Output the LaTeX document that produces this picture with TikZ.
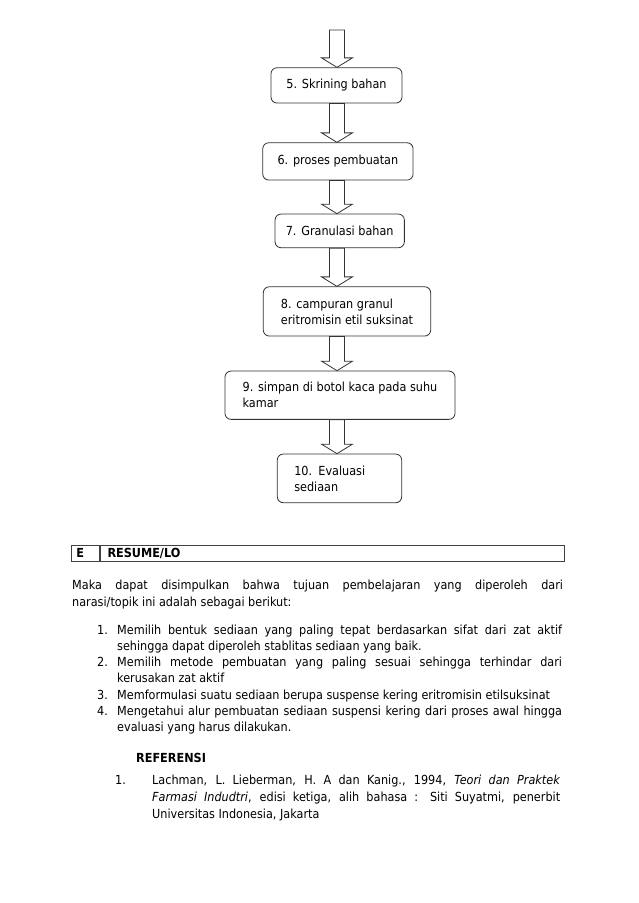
\documentclass[tikz,border=0pt]{standalone}
\usepackage{fontspec}
\setmainfont{DejaVu Sans Condensed}
\usetikzlibrary{calc}

\begin{document}
\begin{tikzpicture}[x=1pt,y=1pt]
    \tikzstyle{stepbox}=[draw=black!80, line width=0.8pt, rounded corners=6pt, align=left, inner sep=0pt, font=\fontsize{12.5}{16}\selectfont]
    \tikzstyle{blockarrow}=[draw=black!80, line width=0.8pt, fill=white, line join=miter]
    \tikzstyle{cell}=[draw=black!75, line width=0.8pt, anchor=north west, minimum height=16pt, inner ysep=0pt, align=left, font=\fontsize{12.5}{15}\selectfont\bfseries]
    \tikzstyle{para}=[anchor=base west, inner sep=0pt, align=justify, font=\fontsize{12.5}{17}\selectfont]

    \fill[white] (0,0) rectangle (638,-903);
    \useasboundingbox (0,0) rectangle (638,-903);

    % flow steps
    \node[stepbox, minimum width=131, minimum height=35.3] (S5) at (336.5,-85.4) {5. Skrining bahan};
    \node[stepbox, minimum width=150.3, minimum height=37.3] (S6) at (337.9,-161.4) {6. proses pembuatan};
    \node[stepbox, minimum width=129.3, minimum height=33.7] (S7) at (339.7,-230.9) {7. Granulasi bahan};
    \node[stepbox, minimum width=167.4, minimum height=49.3] (S8) at (347,-311.4) {8. campuran granul\\eritromisin etil suksinat};
    \node[stepbox, minimum width=230, minimum height=48.3] (S9) at (340,-395.2) {9. simpan di botol kaca pada suhu\\kamar};
    \node[stepbox, text width=90.4, inner xsep=17, minimum height=48.7] (S10) at (339.5,-478.4) {10. Evaluasi\\sediaan};

    \coordinate (col) at (337,0);
    \coordinate (top) at (337,-30);

    % block arrows
    \foreach \a/\b in {top/S5, S5.south/S6, S6.south/S7, S7.south/S8, S8.south/S9, S9.south/S10}
        \draw[blockarrow] ($(col |- \a)+(-7.5,0)$) -- ($(col |- \b.north)+(-7.5,9.5)$) -- ++(-8,0)
            -- (col |- \b.north) -- ($(col |- \b.north)+(15.5,9.5)$) -- ++(-8,0)
            -- ($(col |- \a)+(7.5,0)$) -- cycle;

    % section header
    \node[cell, text width=18.3, inner xsep=5] (E) at (71,-545) {E};
    \node[cell, text width=450, inner xsep=7] (R) at (E.north east) {RESUME/LO};

    % resume text
    \node[para, text width=491] (intro) at (72,-589) {Maka dapat disimpulkan bahwa tujuan pembelajaran yang diperoleh dari\linebreak narasi/topik ini adalah sebagai berikut:};

    \node[para, text width=465, font=\fontsize{12.5}{16.3}\selectfont] (goals) at (97,-634) {%
        \hangindent=20pt\hangafter=1\noindent\makebox[20pt][l]{1.}Memilih bentuk sediaan yang paling tepat berdasarkan sifat dari zat aktif\linebreak sehingga dapat diperoleh stablitas sediaan yang baik.\par
        \hangindent=20pt\hangafter=1\noindent\makebox[20pt][l]{2.}Memilih metode pembuatan yang paling sesuai sehingga terhindar dari\linebreak kerusakan zat aktif\par
        \hangindent=20pt\hangafter=1\noindent\makebox[20pt][l]{3.}Memformulasi suatu sediaan berupa suspense kering eritromisin etilsuksinat\par
        \hangindent=20pt\hangafter=1\noindent\makebox[20pt][l]{4.}Mengetahui alur pembuatan sediaan suspensi kering dari proses awal hingga\linebreak evaluasi yang harus dilakukan.\par};

    \node[para, font=\fontsize{12.5}{17}\selectfont\bfseries] (refhead) at (136,-762) {REFERENSI};

    \node[para, text width=445, font=\fontsize{12.5}{17}\selectfont] (ref1) at (115,-784) {%
        \hangindent=37pt\hangafter=1\noindent\makebox[37pt][l]{1.}Lachman, L. Lieberman, H. A dan Kanig., 1994, \textit{Teori dan Praktek}\linebreak \textit{Farmasi Indudtri}, edisi ketiga, alih bahasa : Siti Suyatmi, penerbit\linebreak Universitas Indonesia, Jakarta\par};
\end{tikzpicture}
\end{document}
